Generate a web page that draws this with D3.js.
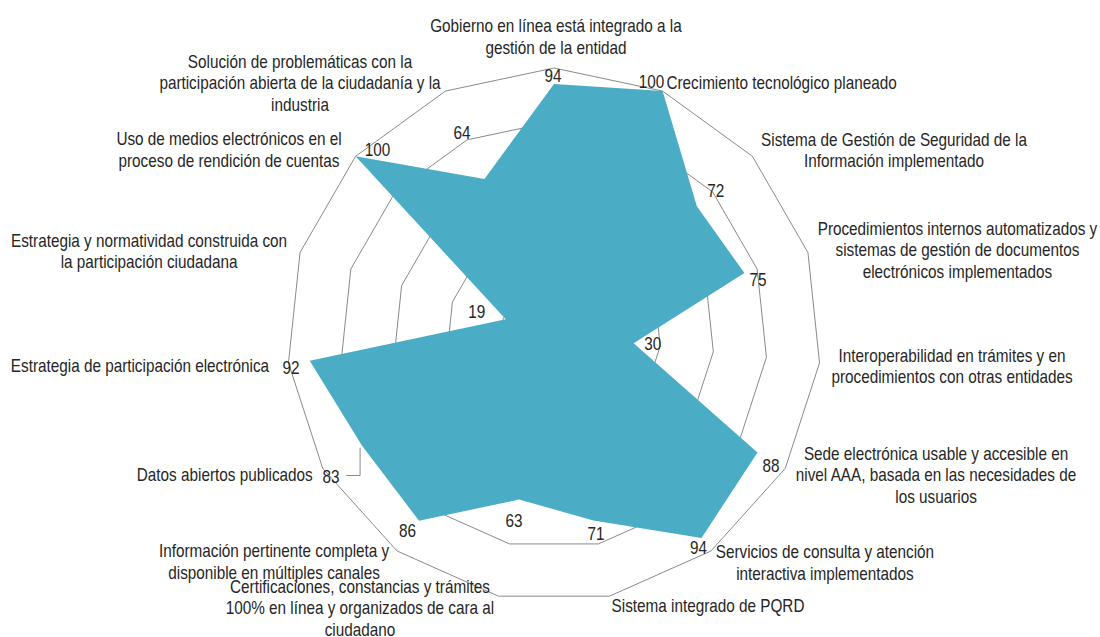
<!DOCTYPE html>
<html><head><meta charset="utf-8">
<script src="https://cdn.jsdelivr.net/npm/d3@7"></script>
<style>body{margin:0;background:#fff} svg{display:block}</style>
</head><body>
<svg id="c" width="1100" height="637"></svg>
<script>
// ---- data ----
const categories = [
  "Gobierno en línea está integrado a la\ngestión de la entidad",
  "Crecimiento tecnológico planeado",
  "Sistema de Gestión de Seguridad de la\nInformación implementado",
  "Procedimientos internos automatizados y\nsistemas de gestión de documentos\nelectrónicos implementados",
  "Interoperabilidad en trámites y en\nprocedimientos con otras entidades",
  "Sede electrónica usable y accesible en\nnivel AAA, basada en las necesidades de\nlos usuarios",
  "Servicios de consulta y atención\ninteractiva implementados",
  "Sistema integrado de PQRD",
  "Certificaciones, constancias y trámites\n100% en línea y organizados de cara al\nciudadano",
  "Información pertinente completa y\ndisponible en múltiples canales",
  "Datos abiertos publicados",
  "Estrategia de participación electrónica",
  "Estrategia y normatividad construida con\nla participación ciudadana",
  "Uso de medios electrónicos en el\nproceso de rendición de cuentas",
  "Solución de problemáticas con la\nparticipación abierta de la ciudadanía y la\nindustria"
];
const values = [94, 100, 72, 75, 30, 88, 94, 71, 63, 86, 83, 92, 19, 100, 64];
const gridTicks = [20, 40, 60, 80, 100];
const valueDomain = [0, 100];

// ---- layout (pixel offsets, not data) ----
const categoryLabelOffsets = [
  [2,-31.5],[119,-9],[141.6,-6.4],[149.5,-2.5],[132.5,3.1],[150.8,6.5],[114,11.5],
  [98.5,9.8],[-138.5,11.8],[-123,10.5],[-98,6.5],[-148.5,3.1],[-151,-1.5],[-126.6,-6.9],[-145.4,-8.1]
];
const valueLabelOffsets = [
  [-1,-9],[-11,-10],[19,-16],[13.5,6.5],[19,0],[13.5,13.5],[-3,9.5],[2.6,13],
  [-5,21],[-11.5,10],[-31,30.7],[-18.7,7.3],[-29,-8],[22,-7],[-22.5,-46.4]
];
const leaderLabelIndex = 10;

const W = 1100, H = 637;
const cx = 554, cy = 335, R = 267;
const FONT = "'Liberation Sans Narrow','Arial Narrow','Liberation Sans',Arial,sans-serif";
const FS = 18, LH = 21.3, NARROW = 0.85;
const textColor = "#262626", gridColor = "#8a8a8a", fillColor = "#4BACC6";

const svg = d3.select("#c");
const g = svg.append("g").attr("transform", `translate(${cx},${cy})`);

const r = d3.scaleLinear().domain(valueDomain).range([0, R]);
const angle = d3.scaleLinear().domain([0, categories.length]).range([0, 2 * Math.PI]);

const radial = d3.lineRadial()
  .angle((d, i) => angle(i))
  .radius(d => r(d))
  .curve(d3.curveLinearClosed);

const polar = (i, v) => {
  const a = angle(i);
  return [r(v) * Math.sin(a), -r(v) * Math.cos(a)];
};

// grid polygons
g.append("g").selectAll("path").data(gridTicks).join("path")
  .attr("d", t => radial(categories.map(() => t)))
  .attr("fill", "none").attr("stroke", gridColor).attr("stroke-width", 1);

// data area
g.append("path").datum(values)
  .attr("d", radial)
  .attr("fill", fillColor).attr("stroke", "none");

// leader line for moved label
{
  const i = leaderLabelIndex;
  const [px, py] = polar(i, values[i]);
  const [dx, dy] = valueLabelOffsets[i];
  g.append("polyline")
    .attr("points", [[px + dx + 15, py + dy - 1], [px - 2, py + dy - 1], [px - 2, py + 2]].map(p => p.join(",")).join(" "))
    .attr("fill", "none").attr("stroke", gridColor).attr("stroke-width", 1);
}

// value labels
g.append("g").selectAll("text").data(values).join("text")
  .attr("transform", (d, i) => {
    const [px, py] = polar(i, d);
    return `translate(${px + valueLabelOffsets[i][0]},${py + valueLabelOffsets[i][1]}) scale(${NARROW},1)`;
  })
  .attr("dy", "0.36em")
  .attr("text-anchor", "middle")
  .attr("font-family", FONT).attr("font-size", FS).attr("fill", textColor)
  .text(d => d);

// category labels
const cl = g.append("g").selectAll("text").data(categories).join("text")
  .attr("text-anchor", "middle")
  .attr("font-family", FONT).attr("font-size", FS).attr("fill", textColor)
  .attr("transform", (d, i) => {
    const [ax, ay] = polar(i, valueDomain[1]);
    return `translate(${ax + categoryLabelOffsets[i][0]},${ay + categoryLabelOffsets[i][1]}) scale(${NARROW},1)`;
  });
cl.each(function(d) {
  const lines = d.split("\n");
  const n = lines.length;
  d3.select(this).selectAll("tspan").data(lines).join("tspan")
    .attr("x", 0)
    .attr("y", (l, k) => (k - (n - 1) / 2) * LH)
    .attr("dy", "0.36em")
    .text(l => l);
});
</script>
</body></html>
